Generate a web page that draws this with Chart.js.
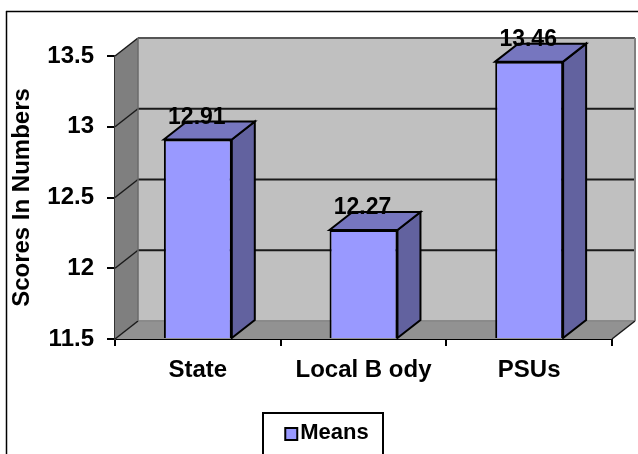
<!DOCTYPE html>
<html>
<head>
<meta charset="utf-8">
<title>Means</title>
<script src="https://cdn.jsdelivr.net/npm/chart.js@4/dist/chart.umd.min.js"></script>
<style>
  html, body { margin: 0; padding: 0; background: #fff; overflow: hidden; }
  canvas { display: block; }
</style>
</head>
<body>
<canvas id="means_chart" width="638" height="454"></canvas>
<script>
const categories = ['State', 'Local B ody', 'PSUs'];
const means = [12.91, 12.27, 13.46];
const yTicks = [11.5, 12, 12.5, 13, 13.5];

const font = 'Liberation Sans';
// how far the back wall sits behind the front plane
const depthX = 23;
const depthY = 18;
// the legend sits right of centre
const legendShift = 20;

function poly(ctx, pts, fill, stroke, width) {
  ctx.beginPath();
  pts.forEach((p, i) => i ? ctx.lineTo(p[0], p[1]) : ctx.moveTo(p[0], p[1]));
  ctx.closePath();
  if (fill) {
    ctx.fillStyle = fill;
    ctx.fill();
  }
  if (stroke) {
    ctx.strokeStyle = stroke;
    ctx.lineWidth = width || 1;
    ctx.stroke();
  }
}

function line(ctx, x1, y1, x2, y2, color, width) {
  ctx.beginPath();
  ctx.moveTo(x1, y1);
  ctx.lineTo(x2, y2);
  ctx.strokeStyle = color;
  ctx.lineWidth = width;
  ctx.stroke();
}

// walls, floor, gridlines and the side and top faces of the bars
const box3d = {
  id: 'box3d',
  afterLayout(chart) {
    chart.legend.left += legendShift;
    chart.legend.right += legendShift;
  },
  beforeDatasetsDraw(chart) {
    const ctx = chart.ctx;
    const { left, right, top, bottom } = chart.chartArea;
    const y = chart.scales.y;
    ctx.save();

    poly(ctx, [[left + depthX, top - depthY], [right + depthX, top - depthY], [right + depthX, bottom - depthY], [left + depthX, bottom - depthY]], '#c0c0c0');
    poly(ctx, [[left, top], [left + depthX, top - depthY], [left + depthX, bottom - depthY], [left, bottom]], '#7f7f7f');
    poly(ctx, [[left, bottom], [left + depthX, bottom - depthY], [right + depthX, bottom - depthY], [right, bottom]], '#929292');

    yTicks.forEach(v => {
      const py = y.getPixelForValue(v);
      const isEdge = v === yTicks[0];
      const isTop = v === yTicks[yTicks.length - 1];
      const color = isEdge ? '#8a8a8a' : isTop ? '#555555' : '#1a1a1a';
      line(ctx, left + depthX, py - depthY, right + depthX, py - depthY, color, 2);
      line(ctx, left, py, left + depthX, py - depthY, '#1a1a1a', 1.5);
    });

    line(ctx, left + depthX, top - depthY, left + depthX, bottom - depthY, '#6a6a6a', 1.5);
    line(ctx, right + depthX, top - depthY, right + depthX, bottom - depthY, '#808080', 2);
    line(ctx, right, bottom, right + depthX, bottom - depthY, '#1a1a1a', 1.5);

    chart.getDatasetMeta(0).data.forEach(bar => {
      const l = bar.x - bar.width / 2;
      const r = bar.x + bar.width / 2;
      poly(ctx, [[r, bar.y], [r + depthX, bar.y - depthY], [r + depthX, bar.base - depthY], [r, bar.base]], '#62629f', '#000', 2);
      poly(ctx, [[l, bar.y], [l + depthX, bar.y - depthY], [r + depthX, bar.y - depthY], [r, bar.y]], '#7676bf', '#000', 2);
    });
    ctx.restore();
  },
  afterDatasetsDraw(chart) {
    const ctx = chart.ctx;
    ctx.save();
    ctx.fillStyle = '#000';
    ctx.font = 'bold 23px "' + font + '"';
    ctx.textAlign = 'center';
    ctx.textBaseline = 'middle';
    chart.getDatasetMeta(0).data.forEach((bar, i) => {
      ctx.fillText(means[i].toFixed(2), bar.x - 1, bar.y - 22);
    });
    ctx.restore();
  },
  afterDraw(chart) {
    // frame around the page, the legend box and its swatch
    const ctx = chart.ctx;
    const lg = chart.legend;
    ctx.save();
    line(ctx, 6, 11.5, chart.width, 11.5, '#000', 1.5);
    line(ctx, 6.5, 11, 6.5, chart.height, '#000', 1.5);
    ctx.strokeStyle = '#000';
    ctx.lineWidth = 2;
    ctx.strokeRect(263, lg.top + 1, 120, chart.height - lg.top + 4);
    ctx.fillStyle = '#9999ff';
    ctx.fillRect(lg.legendHitBoxes[0].left + 2, lg.top + 16, 12, 12);
    ctx.strokeRect(lg.legendHitBoxes[0].left + 2, lg.top + 16, 12, 12);
    ctx.restore();
  }
};

const config = {
  type: 'bar',
  data: {
    labels: categories,
    datasets: [
      {
        label: 'Means',
        data: means,
        base: yTicks[0],
        backgroundColor: '#9999ff',
        borderColor: '#000',
        borderWidth: 2,
        barPercentage: 0.41,
        categoryPercentage: 1
      }
    ]
  },
  options: {
    responsive: false,
    animation: false,
    layout: {
      padding: { top: 56, right: 26, left: 0, bottom: 0 }
    },
    plugins: {
      tooltip: { enabled: false },
      legend: {
        position: 'bottom',
        labels: {
          color: '#000',
          boxWidth: 6,
          boxHeight: 12,
          padding: 10,
          font: { family: font, size: 22, weight: 'bold' },
          // the swatch is drawn in box3d, closer to the text than the default gap
          generateLabels: chart => [{
            text: chart.data.datasets[0].label,
            fillStyle: 'rgba(0,0,0,0)',
            strokeStyle: 'rgba(0,0,0,0)',
            lineWidth: 0,
            datasetIndex: 0
          }]
        }
      }
    },
    scales: {
      x: {
        afterFit(scale) { scale.height = 73; },
        border: { color: '#000', width: 2 },
        grid: { drawOnChartArea: false, color: '#000', lineWidth: 2, tickLength: 7 },
        ticks: { color: '#000', padding: 10, maxRotation: 0, font: { family: font, size: 24, weight: 'bold' } }
      },
      y: {
        min: 11.5,
        max: 13.5,
        afterFit(scale) { scale.width = 115; },
        afterBuildTicks(scale) { scale.ticks = yTicks.map(value => ({ value })); },
        border: { color: '#333', width: 2 },
        grid: { drawOnChartArea: false, color: '#000', lineWidth: 2, tickLength: 8 },
        ticks: { color: '#000', padding: 13, callback: v => String(v), font: { family: font, size: 24, weight: 'bold' } },
        title: {
          display: true,
          text: 'Scores In Numbers',
          color: '#000',
          padding: { top: 8, bottom: 0 },
          font: { family: font, size: 24, weight: 'bold' }
        }
      }
    }
  },
  plugins: [box3d]
};

new Chart(document.getElementById('means_chart').getContext('2d'), config);
</script>
</body>
</html>
